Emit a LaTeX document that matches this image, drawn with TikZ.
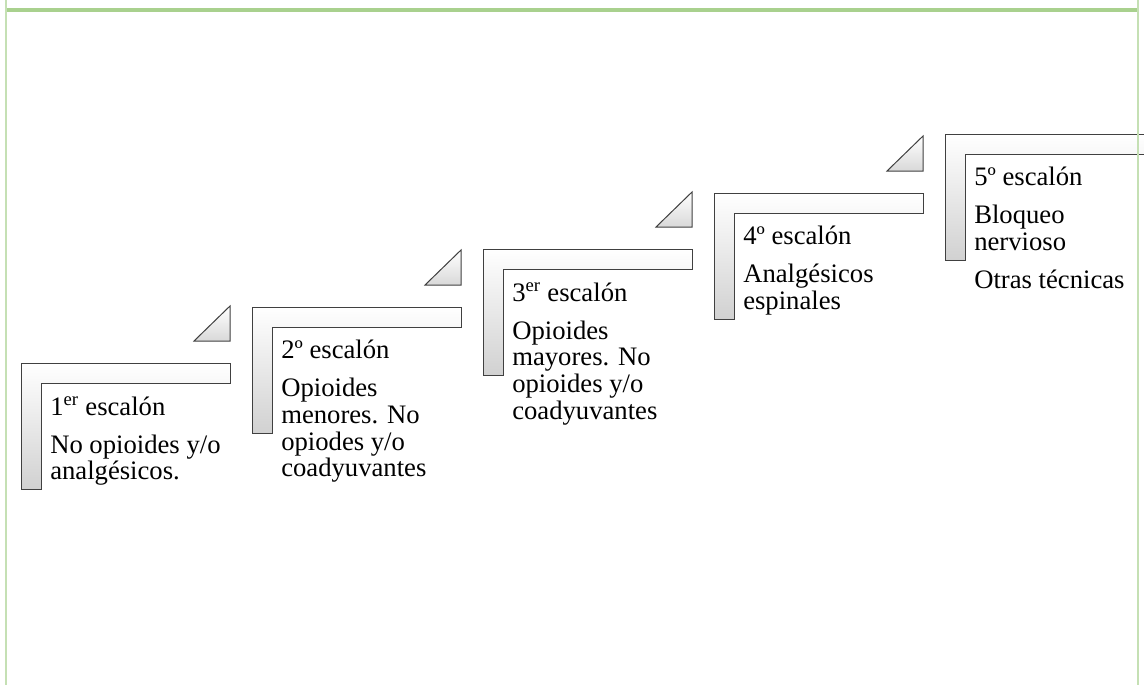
\documentclass[tikz,border=0pt]{standalone}
\usepackage{fontspec}
\setmainfont{Liberation Serif}
\definecolor{framegreen}{HTML}{A9D18E}
\definecolor{framelight}{HTML}{C5E0B4}
\definecolor{edgegray}{HTML}{404040}
\begin{document}
\begin{tikzpicture}[x=0.75pt, y=-0.75pt,
    stepbar/.style={draw=edgegray, line width=0.75pt, top color=white, bottom color=black!18},
    stepwedge/.style={draw=edgegray, line width=0.75pt, top color=white, bottom color=black!15},
    steptext/.style={anchor=north west, inner sep=0pt, align=left, font=\fontsize{20}{20}\selectfont}]
    \useasboundingbox (0,0) rectangle (1144,685);
    % 1st step
    \draw[stepbar] (21,363) -- (230,363) -- (230,383) -- (41,383) -- (41,489) -- (21,489) -- cycle;
    \draw[stepwedge] (194,341) -- (230,306) -- (230,341) -- cycle;
    \node[steptext] (step1) at (50,396) {1\textsuperscript{er} escalón\\[8.5pt] No opioides y/o\\ analgésicos.};

    % 2nd step
    \draw[stepbar] (252,307) -- (461,307) -- (461,327) -- (272,327) -- (272,433) -- (252,433) -- cycle;
    \draw[stepwedge] (425,285) -- (461,250) -- (461,285) -- cycle;
    \node[steptext] (step2) at (281,340) {2º escalón\\[8.5pt] Opioides\\ menores. No\\ opiodes y/o\\ coadyuvantes};

    % 3rd step
    \draw[stepbar] (483,249) -- (692,249) -- (692,269) -- (503,269) -- (503,375) -- (483,375) -- cycle;
    \draw[stepwedge] (656,227) -- (692,192) -- (692,227) -- cycle;
    \node[steptext] (step3) at (512,282) {3\textsuperscript{er} escalón\\[8.5pt] Opioides\\ mayores. No\\ opioides y/o\\ coadyuvantes};

    % 4th step
    \draw[stepbar] (714,193) -- (923,193) -- (923,213) -- (734,213) -- (734,319) -- (714,319) -- cycle;
    \draw[stepwedge] (887,171) -- (923,136) -- (923,171) -- cycle;
    \node[steptext] (step4) at (743,226) {4º escalón\\[8.5pt] Analgésicos\\ espinales};

    % 5th step
    \draw[stepbar] (945,134) -- (1154,134) -- (1154,154) -- (965,154) -- (965,260) -- (945,260) -- cycle;
    \node[steptext] (step5) at (974,167) {5º escalón\\[8.5pt] Bloqueo\\ nervioso\\[8.5pt] Otras técnicas};

    % frame lines
    \fill[framelight] (5,0) rectangle (7,685);
    \fill[framelight] (1137,0) rectangle (1139,685);
    \fill[framegreen] (7,8) rectangle (1137,12);
\end{tikzpicture}
\end{document}
